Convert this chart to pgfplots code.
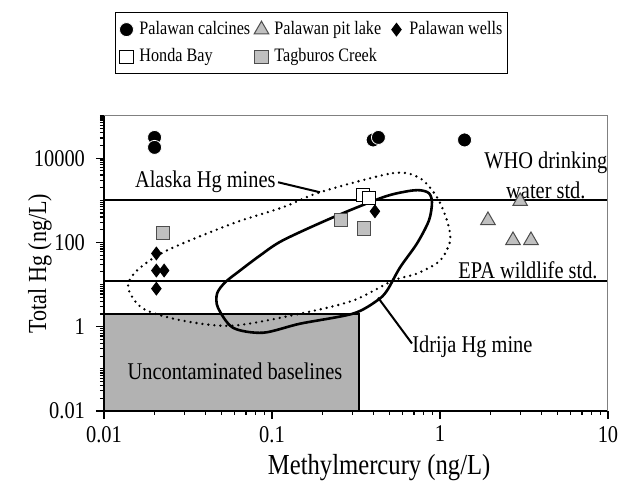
\documentclass[border=0pt]{standalone}
\usepackage{fontspec}
\setmainfont{Liberation Serif}[FakeStretch=0.85]
\usepackage{pgfplots}
\pgfplotsset{compat=1.18}
\definecolor{mgray}{HTML}{C0C0C0}
\definecolor{dgray}{HTML}{4D4D4D}
\definecolor{bgray}{HTML}{B2B2B2}
\pgfplotsset{myleg/.style={legend image code/.code={\path[draw=none,fill=none] (-4pt,-4pt) rectangle (5.5pt,4pt); \draw[##1] plot coordinates {(0pt,0pt)};}}}
\begin{document}
\begin{tikzpicture}[font=\fontsize{12}{15}\selectfont]
\path (-52pt,-36pt) rectangle (266.5pt,205.5pt);
\begin{axis}[
  at={(0pt,0pt)}, anchor=south west,
  xmode=log, ymode=log, scale only axis, width=252pt, height=147.5pt,
  xmin=0.01, xmax=10, ymin=0.01, ymax=100000,
  axis x line*=bottom, axis y line*=left,
  axis line style={line width=0.75pt, -},
  xtick={0.01,0.1,1,10}, xticklabels={0.01,0.1,1,10},
  ytick={0.01,1,100,10000}, yticklabels={0.01,1,100,10000},
  minor xtick={0.02,0.03,0.04,0.05,0.06,0.07,0.08,0.09,0.2,0.3,0.4,0.5,0.6,0.7,0.8,0.9,2,3,4,5,6,7,8,9},
  minor ytick={0.02,0.03,0.04,0.05,0.06,0.07,0.08,0.09,0.1,0.2,0.3,0.4,0.5,0.6,0.7,0.8,0.9,2,3,4,5,6,7,8,9,10,20,30,40,50,60,70,80,90,200,300,400,500,600,700,800,900,1000,2000,3000,4000,5000,6000,7000,8000,9000,20000,30000,40000,50000,60000,70000,80000,90000,100000},
  tick align=outside, major tick length=4pt, minor tick length=2pt,
  tick style={black, line width=0.6pt},
  ticklabel style={font=\fontsize{12}{14}\selectfont},
  yticklabel style={xshift=-2pt},
  xlabel={Methylmercury (ng/L)}, ylabel={Total Hg (ng/L)},
  xlabel style={at={(axis description cs:0.546,-0.193)}, anchor=center, font=\fontsize{14.5}{16}\selectfont},
  ylabel style={at={(axis description cs:-0.127,0.5)}, anchor=center, font=\fontsize{13}{15}\selectfont},
  legend columns=3, legend cell align=left,
  legend style={at={(0.0218,1.3525)}, anchor=north west, draw=black, line width=0.5pt,
    inner xsep=1.5pt, inner ysep=3.5pt, font=\fontsize{9.5}{11}\selectfont,
    nodes={inner xsep=1pt, inner ysep=1pt}, row sep=3.5pt,
    /tikz/every even column/.append style={column sep=0pt}},
  clip=false,
]
% uncontaminated baseline box
\addplot[forget plot, draw=black, line width=1pt, fill=bgray] coordinates {(0.01,0.01) (0.01,2.0) (0.33,2.0) (0.33,0.01)} -- cycle;
% WHO and EPA standards
\addplot[forget plot, black, line width=1pt] coordinates {(0.01,1000) (10,1000)};
\addplot[forget plot, black, line width=1pt] coordinates {(0.01,12) (10,12)};
% Alaska Hg mines (dotted)
\addplot[forget plot, black, smooth cycle, line width=1.3pt, line cap=round, dash pattern=on 0pt off 3pt] coordinates {
 (0.193,1550) (0.525,4400) (0.76,3340) (0.96,1180) (1.10,334) (1.15,112) (1.0,37) (0.73,18.3) (0.525,12.4) (0.303,4.16) (0.147,2.04) (0.0586,1.06) (0.0295,1.39) (0.0171,2.68) (0.0139,8.5) (0.0157,21.5) (0.0237,64.5) (0.0586,283) (0.116,681)};
% Idrija Hg mine (solid)
\addplot[forget plot, black, smooth cycle, line width=1.3pt] coordinates {
 (0.458,1180) (0.636,1630) (0.76,1730) (0.86,1470) (0.896,895) (0.86,334) (0.73,94.6) (0.578,25.4) (0.484,7.2) (0.422,4.16) (0.303,2.04) (0.147,1.18) (0.0884,0.72) (0.0586,0.946) (0.0477,2.83) (0.0471,6.1) (0.0525,11.2) (0.0645,21.5) (0.0849,49) (0.116,112) (0.231,394)};
% leader lines
\addplot[forget plot, black, line width=1pt] coordinates {(0.1086,2680) (0.193,1550)};
\addplot[forget plot, black, line width=1pt] coordinates {(0.681,0.40) (0.428,4.9)};
% data
\addplot[only marks, mark=*, mark size=3.5pt, mark options={fill=black, draw=white, line width=0.4pt}, myleg] coordinates {(0.02,31000) (0.02,18000) (0.40,27000) (0.43,31000) (1.4,27000)};
\addlegendentry{\makebox[56pt][l]{Palawan calcines}}
\addplot[only marks, mark=triangle*, mark size=4.2pt, mark options={fill=mgray, draw=dgray, line width=0.5pt}, myleg] coordinates {(1.93,334) (3.0,946) (2.72,112) (3.48,112)};
\addlegendentry{\makebox[56pt][l]{Palawan pit lake}}
\addplot[only marks, mark=diamond*, mark size=3.2pt, mark options={fill=black, draw=black, line width=0.4pt}, myleg] coordinates {(0.41,547) (0.0205,54.7) (0.0205,21.5) (0.0228,21.5) (0.0205,8.0)};
\addlegendentry{Palawan wells}
\addplot[only marks, mark=square*, mark size=3.3pt, mark options={fill=white, draw=black, line width=0.5pt}, myleg] coordinates {(0.348,1315) (0.378,1117)};
\addlegendentry{\makebox[56pt][l]{Honda Bay}}
\addplot[only marks, mark=square*, mark size=3.3pt, mark options={fill=mgray, draw=dgray, line width=0.5pt}, myleg] coordinates {(0.257,334) (0.353,215) (0.0225,164)};
\addlegendentry{\makebox[56pt][l]{Tagburos Creek}}
% annotations
\node[anchor=east, inner sep=0pt] at (axis cs:0.1056,2680) {Alaska Hg mines};
\node[align=center, inner sep=0pt] at (axis cs:4.27,3940) {WHO drinking\\water std.};
\node[inner sep=0pt] at (axis cs:3.34,21.5) {EPA wildlife std.};
\node[anchor=west, inner sep=0pt] at (axis cs:0.681,0.334) {Idrija Hg mine};
\node[inner sep=0pt] at (axis cs:0.0602,0.0895) {Uncontaminated baselines};
\draw[gray, line width=0.5pt] (rel axis cs:0,1) -- (rel axis cs:1,1) -- (rel axis cs:1,0);
\end{axis}
\end{tikzpicture}
\end{document}
